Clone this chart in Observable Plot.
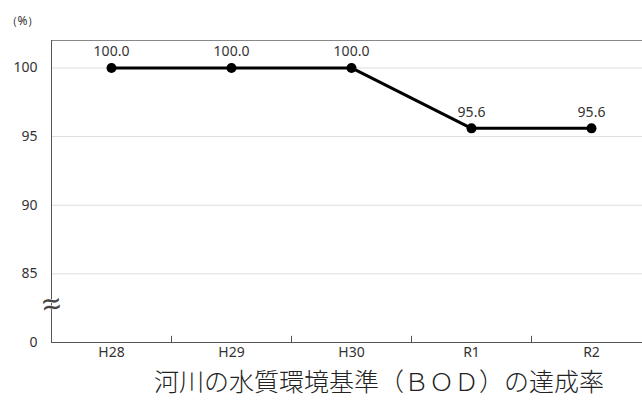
<!DOCTYPE html>
<html><head><meta charset="utf-8">
<script src="https://cdn.jsdelivr.net/npm/d3@7"></script>
<script src="https://cdn.jsdelivr.net/npm/@observablehq/plot@0.6"></script>
<style>body{margin:0;background:#fff}</style>
</head><body>
<div id="chart"></div>
<script>
const years = ["H28", "H29", "H30", "R1", "R2"];
const rates = [100.0, 100.0, 100.0, 95.6, 95.6];
const yTicks = [80, 85, 90, 95, 100];   // 80 stands for the broken "0"
const gridTicks = [85, 90, 95, 100, 102];
const title = "河川の水質環境基準（ＢＯＤ）の達成率";

const data = years.map((y, i) => ({year: y, rate: rates[i]}));
const font = "'Noto Sans', 'Open Sans', sans-serif";

const chart = Plot.plot({
  width: 642,
  height: 410,
  marginLeft: 51,
  marginRight: 0,
  marginTop: 40,
  marginBottom: 68,
  style: {fontFamily: font, fontSize: "14px", color: "#333", background: "#fff"},
  x: {type: "band", domain: years, range: [51, 651], padding: 0, label: null, tickSize: 0, tickPadding: 5},
  y: {domain: [80, 102], range: [342, 40], label: null, ticks: yTicks, tickSize: 0, tickPadding: 14,
      tickFormat: d => d === 80 ? "0" : d},
  marks: [
    Plot.ruleY(gridTicks, {y: d => d, stroke: d => d === 102 ? "#888" : "#ddd"}),
    Plot.ruleX([0], {x: () => years[0], dx: -60, y1: 80, y2: 102, stroke: "#555"}),
    Plot.ruleY([80], {stroke: "#555"}),
    Plot.ruleX(years.slice(1), {x: d => d, dx: -60, y1: 80, y2: 80.45, stroke: "#555"}),
    Plot.text([0], {x: () => years[0], y: 82.7, dx: -60, text: () => "≈", fontSize: 34, fill: "#444",
      stroke: "#fff", strokeWidth: 1, rotate: -8}),
    Plot.line(data, {x: "year", y: "rate", stroke: "#000", strokeWidth: 3}),
    Plot.dot(data, {x: "year", y: "rate", r: 5, fill: "#000"}),
    Plot.text(data, {x: "year", y: "rate", text: d => d.rate.toFixed(1), dy: -16, fontSize: 14, fill: "#333"}),
    Plot.text([title], {frameAnchor: "bottom", dx: 32, dy: 48, fontSize: 25, fontWeight: 300, fill: "#222",
      fontFamily: "'Noto Sans CJK JP', serif"}),
    Plot.text(["（%）"], {frameAnchor: "top-left", dx: -46, dy: -24, fontSize: 12, fill: "#333"})
  ]
});
document.getElementById("chart").append(chart);
</script>
</body></html>
